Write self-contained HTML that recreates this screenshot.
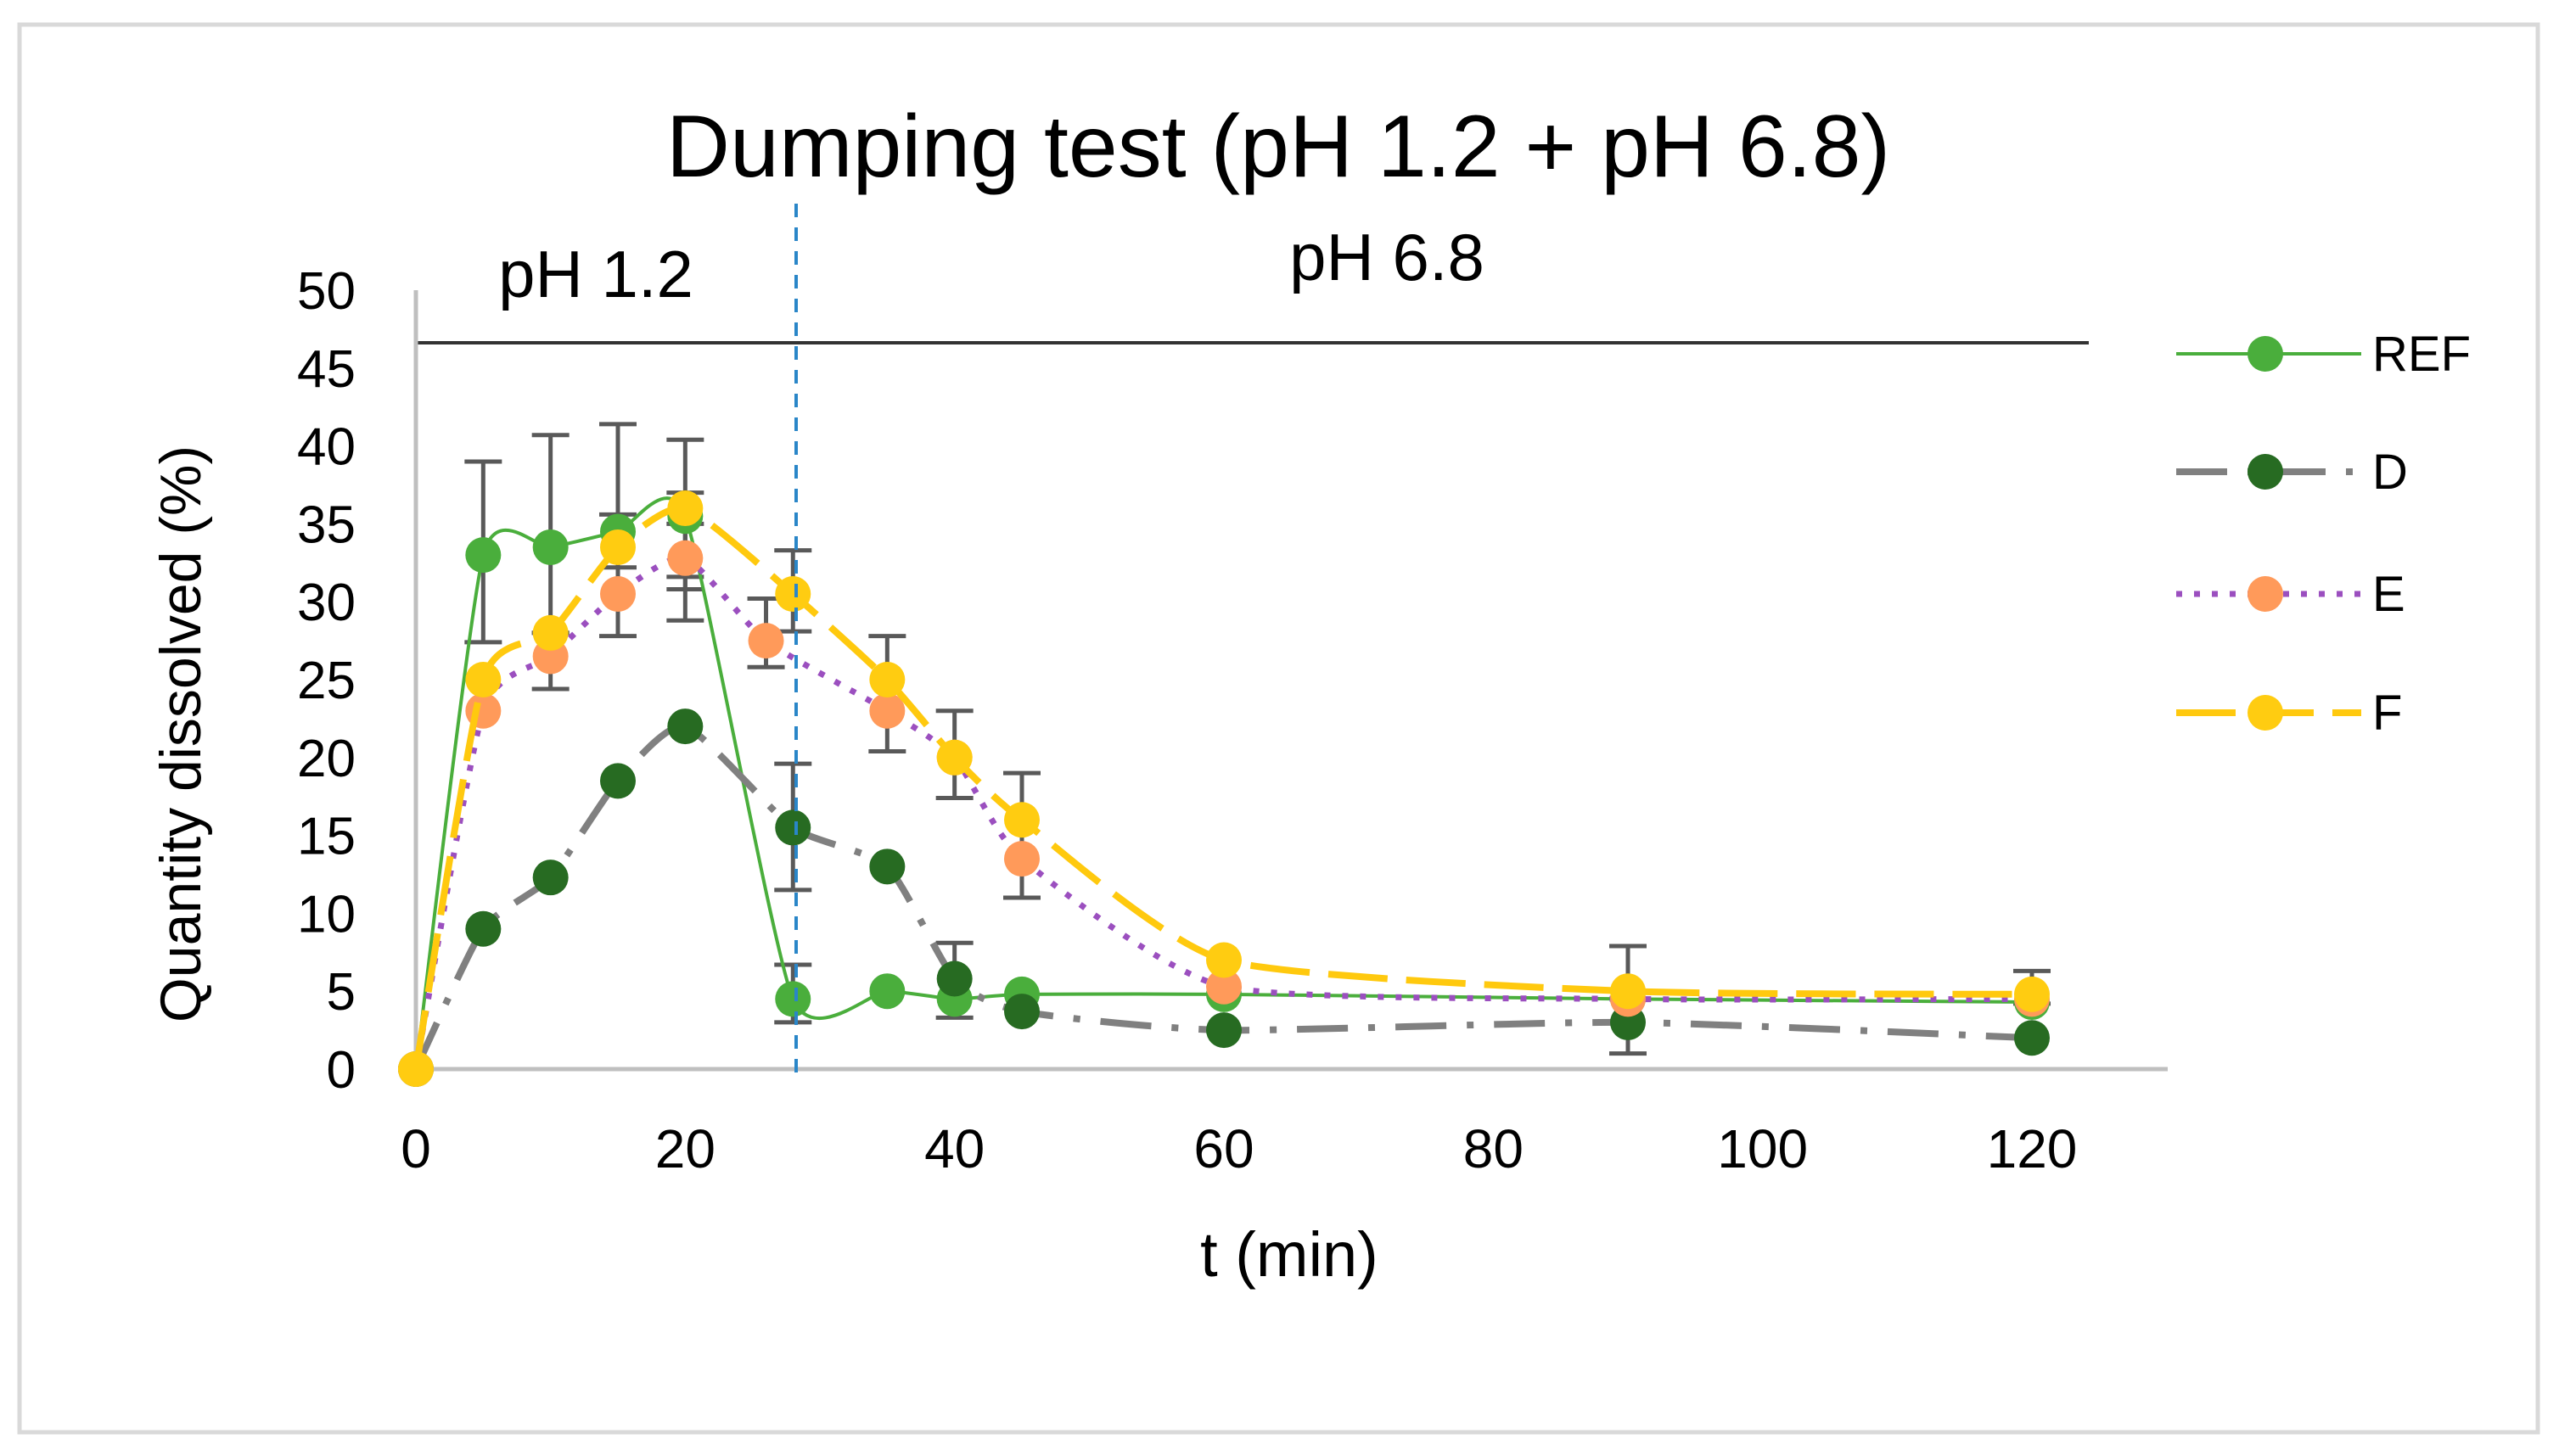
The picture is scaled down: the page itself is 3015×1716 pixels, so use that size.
<!DOCTYPE html>
<html><head><meta charset="utf-8"><style>
html,body{margin:0;padding:0;background:#fff;}
svg{display:block;font-family:"Liberation Sans",Calibri,sans-serif;}
</style></head><body>
<svg id="chart" width="3015" height="1716" viewBox="0 0 3015 1716">
<rect x="23" y="29" width="2967" height="1659" fill="#fff" stroke="#d9d9d9" stroke-width="5"/>
<text x="1506" y="208" font-size="104" text-anchor="middle" fill="#000">Dumping test (pH 1.2 + pH 6.8)</text>
<text x="702" y="350" font-size="78" text-anchor="middle" fill="#000">pH 1.2</text>
<text x="1634" y="330" font-size="78" text-anchor="middle" fill="#000">pH 6.8</text>
<line x1="490" y1="404" x2="2461" y2="404" stroke="#333" stroke-width="4"/>
<g id="axes"></g>
<g id="errs"></g>
<g id="series"></g>
<line x1="938" y1="240" x2="938" y2="1273" stroke="#2a86c8" stroke-width="4" stroke-dasharray="16,12"/>
<text x="1519" y="1504" font-size="74" text-anchor="middle" fill="#000">t (min)</text>
<text transform="translate(236,865) rotate(-90)" font-size="68" text-anchor="middle" fill="#000">Quantity dissolved (%)</text>
<g id="legend"></g>
</svg>
<script>
const xTicks=[0,20,40,60,80,100,120];
const yTicks=[0,5,10,15,20,25,30,35,40,45,50];
const refX=[0,5,10,15,20,28,35,40,45,60,90,120];
const refY=[0,33,33.5,34.5,35.5,4.5,5,4.5,4.8,4.8,4.5,4.3];
const dX=[0,5,10,15,20,28,35,40,45,60,90,120];
const dY=[0,9,12.3,18.5,22,15.5,13,5.8,3.7,2.5,3,2];
const eX=[0,5,10,15,20,26,35,40,45,60,90,120];
const eY=[0,23,26.5,30.5,32.8,27.5,23,20,13.5,5.3,4.5,4.5];
const fX=[0,5,10,15,20,28,35,40,45,60,90,120];
const fY=[0,25,28,33.5,36,30.5,25,20,16,7,5,4.8];
const errX=[5,10,10,15,15,20,20,20,26,28,28,28,35,40,40,45,90,120];
const errLow=[27.4,28,24.4,27.8,32.2,30.8,28.8,35,25.8,28.1,11.5,3,20.4,17.4,3.3,11,1,4.2];
const errHigh=[39,40.7,28,41.4,35.6,40.4,37,31.6,30.2,33.3,19.6,6.7,27.8,23,8.1,19,7.9,6.3];

const NS="http://www.w3.org/2000/svg";
const X=v=>490+v*(2394-490)/120;
const Y=v=>1260-v*(1260-342)/50;
function mk(tag,attrs,parent){const e=document.createElementNS(NS,tag);for(const k in attrs)e.setAttribute(k,attrs[k]);parent.appendChild(e);return e;}
const axes=document.getElementById('axes');
let l=mk('line',{x1:490,y1:342,x2:490,y2:1260,stroke:'#bfbfbf','stroke-width':5},axes);


l=mk('line',{x1:488,y1:1260,x2:2554,y2:1260,stroke:'#bfbfbf','stroke-width':5},axes);


yTicks.forEach(t=>{const e=mk('text',{x:419,y:Y(t)+22,'font-size':62,'text-anchor':'end',fill:'#000'},axes);e.textContent=t;

});
xTicks.forEach(t=>{const e=mk('text',{x:X(t),y:1376,'font-size':64,'text-anchor':'middle',fill:'#000'},axes);e.textContent=t;

});

const errs=document.getElementById('errs');
errX.forEach((x,i)=>{const g=mk('g',{stroke:'#595959','stroke-width':5},errs);


const cx=X(x);mk('line',{x1:cx,y1:Y(errLow[i]),x2:cx,y2:Y(errHigh[i])},g);
mk('line',{x1:cx-22,y1:Y(errLow[i]),x2:cx+22,y2:Y(errLow[i])},g);
mk('line',{x1:cx-22,y1:Y(errHigh[i]),x2:cx+22,y2:Y(errHigh[i])},g);});

function smooth(xs,ys){const p=xs.map((x,i)=>[X(x),Y(ys[i])]);let d='M'+p[0][0]+','+p[0][1];
for(let i=0;i<p.length-1;i++){const p0=p[i-1]||p[i],p1=p[i],p2=p[i+1],p3=p[i+2]||p2;const t=0.1;
d+=' C'+(p1[0]+(p2[0]-p0[0])*t)+','+(p1[1]+(p2[1]-p0[1])*t)+' '+(p2[0]-(p3[0]-p1[0])*t)+','+(p2[1]-(p3[1]-p1[1])*t)+' '+p2[0]+','+p2[1];}return d;}
const ser=document.getElementById('series');
const defs=[
 {n:'ref',xs:refX,ys:refY,lc:'#4aae3c',lw:4,da:'',mc:'#4aae3c'},
 {n:'d',xs:dX,ys:dY,lc:'#808080',lw:8,da:'60,24,8,24',mc:'#276b22'},
 {n:'e',xs:eX,ys:eY,lc:'#9b4fbf',lw:7,da:'7,14',mc:'#ff9a5a'},
 {n:'f',xs:fX,ys:fY,lc:'#ffc90e',lw:8,da:'70,22',mc:'#ffcc11'}];
defs.forEach(s=>{const g=mk('g',{},ser);


const p=mk('path',{d:smooth(s.xs,s.ys),fill:'none',stroke:s.lc,'stroke-width':s.lw,'stroke-dasharray':s.da},g);


s.xs.forEach((x,i)=>{const c=mk('circle',{cx:X(x),cy:Y(s.ys[i]),r:21,fill:s.mc},g);

});});

const leg=document.getElementById('legend');
const legLabels=['REF','D','E','F'];
const legY=[417,556,700,840];
defs.forEach((s,i)=>{const g=mk('g',{},leg);


mk('line',{x1:2564,y1:legY[i],x2:2782,y2:legY[i],stroke:s.lc,'stroke-width':s.lw,'stroke-dasharray':s.da},g);
mk('circle',{cx:2669,cy:legY[i],r:21,fill:s.mc},g);
const t=mk('text',{x:2795,y:legY[i]+20,'font-size':58,fill:'#000'},g);t.textContent=legLabels[i];});
</script>
</body></html>
